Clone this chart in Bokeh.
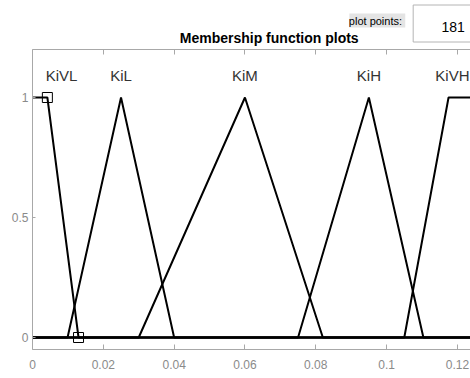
from bokeh.plotting import figure
from bokeh.layouts import column
from bokeh.models import FixedTicker, LinearAxis, Range1d
from bokeh.core.properties import value
from bokeh.embed import file_html
from bokeh.resources import INLINE

X_MAX = 0.1237
mf_names = ["KiVL", "KiL", "KiM", "KiH", "KiVH"]
mf_x = [
    [0.0, 0.0042, 0.013, X_MAX],
    [0.0, 0.0099, 0.025, 0.040, X_MAX],
    [0.0, 0.030, 0.060, 0.082, X_MAX],
    [0.0, 0.075, 0.095, 0.1104, X_MAX],
    [0.0, 0.105, 0.1175, X_MAX],
]
mf_y = [
    [1, 1, 0, 0],
    [0, 0, 1, 0, 0],
    [0, 0, 1, 0, 0],
    [0, 0, 1, 0, 0],
    [0, 0, 1, 1],
]
label_x = [0.0082, 0.025, 0.060, 0.095, 0.1186]
label_y = [1.09, 1.09, 1.09, 1.09, 1.09]
sel_x = [0.0042, 0.013]
sel_y = [1, 0]
x_ticks = [0, 0.02, 0.04, 0.06, 0.08, 0.1, 0.12]
x_tick_labels = ["0", "0.02", "0.04", "0.06", "0.08", "0.1", "0.12"]
y_ticks = [0, 0.5, 1]
y_tick_labels = ["0", "0.5", "1"]
title_text = "Membership function plots"
points_label = "plot points:"
points_value = "181"

FONT = "Liberation Sans"
AX = "#a8a8a8"
LAB = "#8a8a8a"

HEAD = 48

# ---- header strip: title and the plot-points widgets ----
h = figure(width=470, height=HEAD, output_backend="svg", toolbar_location=None,
           x_range=Range1d(0, 470), y_range=Range1d(HEAD, 0),
           min_border_left=0, min_border_right=0, min_border_top=0, min_border_bottom=0,
           x_axis_location=None, y_axis_location=None)
h.outline_line_color = None
h.xgrid.visible = False
h.ygrid.visible = False
h.quad(left=[340], right=[400], top=[13], bottom=[27], fill_color="#e4e4e4",
       line_color=None)
h.text([368], [20], text=[points_label], text_align="center", text_baseline="middle",
       text_font=value(FONT), text_font_size="11px", text_color="black")
h.quad(left=[408.5], right=[480], top=[4.5], bottom=[41.5], fill_color="white",
       line_color="#b4b4b4", line_width=1)
h.text([464], [26], text=[points_value], text_align="right", text_baseline="middle",
       text_font=value(FONT), text_font_size="14px", text_color="black")
h.text([254], [37], text=[title_text], text_align="center", text_baseline="middle",
       text_font=value(FONT), text_font_size="14px", text_font_style="bold",
       text_color="black")

# ---- main membership plot ----
p = figure(width=470, height=378 - HEAD, output_backend="svg", toolbar_location=None,
           x_range=Range1d(0, X_MAX), y_range=Range1d(-0.05, 1.2),
           min_border_left=32, min_border_right=0, min_border_top=49 - HEAD,
           min_border_bottom=29,
           x_axis_location=None, y_axis_location=None)
p.outline_line_color = None
p.xgrid.visible = False
p.ygrid.visible = False

def style_axis(ax, ticks, labels, tick_in=5):
    ax.ticker = FixedTicker(ticks=ticks)
    ax.major_label_overrides = {t: l for t, l in zip(ticks, labels)}
    ax.axis_line_color = AX
    ax.major_tick_line_color = AX
    ax.major_tick_in = tick_in
    ax.major_tick_out = 0
    ax.minor_tick_line_color = None
    ax.major_label_text_color = LAB
    ax.major_label_text_font = FONT
    ax.major_label_text_font_size = "12px"

bottom = LinearAxis()
style_axis(bottom, x_ticks, x_tick_labels)
bottom.major_label_standoff = 10
p.add_layout(bottom, "below")

top = LinearAxis()
style_axis(top, x_ticks, x_tick_labels)
top.major_label_text_font_size = "0px"
top.major_label_text_alpha = 0
top.major_label_standoff = 0
p.add_layout(top, "above")

left = LinearAxis()
style_axis(left, y_ticks, y_tick_labels, tick_in=3)
left.major_label_standoff = 4
p.add_layout(left, "left")

for xs, ys in zip(mf_x, mf_y):
    p.line(xs, ys, line_color="black", line_width=2)

p.scatter(sel_x, sel_y, marker="square", size=10, fill_color=None,
          line_color="black", line_width=1)

p.text(label_x, label_y, text=mf_names, text_align="center", text_baseline="middle",
       text_font=value(FONT), text_font_size="15px", text_color="#333333")

layout = column(h, p, spacing=0)
open("out.html", "w").write(file_html(layout, INLINE))
